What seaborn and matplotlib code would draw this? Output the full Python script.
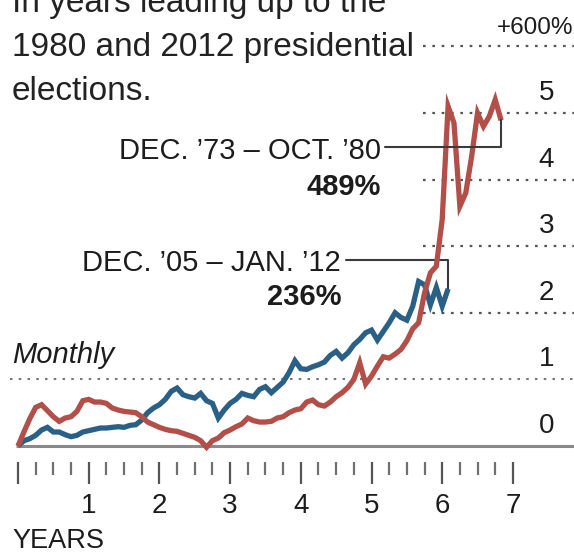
import numpy as np
import pandas as pd
import matplotlib
matplotlib.use("Agg")
import matplotlib.pyplot as plt
from matplotlib.ticker import FixedLocator, FixedFormatter
import seaborn as sns

# ---------------- data (percent change / 100 since start month) ----------------
red_label = "DEC. \u201973 \u2013 OCT. \u201980"
blue_label = "DEC. \u201905 \u2013 JAN. \u201912"
red_total = "489%"
blue_total = "236%"

red_values = [0.00, 0.21, 0.41, 0.58, 0.62, 0.53, 0.44, 0.37, 0.42, 0.44, 0.52, 0.68, 0.70,
              0.66, 0.66, 0.64, 0.57, 0.54, 0.52, 0.51, 0.50, 0.44, 0.36, 0.32, 0.28,
              0.25, 0.23, 0.22, 0.19, 0.16, 0.13, 0.08, -0.02, 0.08, 0.12, 0.20, 0.24,
              0.29, 0.33, 0.42, 0.38, 0.36, 0.36, 0.37, 0.42, 0.44, 0.50, 0.54, 0.56,
              0.66, 0.69, 0.62, 0.60, 0.66, 0.74, 0.80, 0.88, 1.00, 1.25, 0.93, 1.05,
              1.20, 1.34, 1.32, 1.38, 1.45, 1.58, 1.76, 1.85, 2.30, 2.60, 2.70, 3.40,
              5.10, 4.85, 3.60, 3.80, 4.35, 5.00, 4.80, 4.95, 5.20, 4.89]

blue_values = [0.00, 0.08, 0.11, 0.16, 0.24, 0.28, 0.21, 0.21, 0.17, 0.14, 0.16, 0.21, 0.23,
               0.25, 0.27, 0.27, 0.28, 0.29, 0.28, 0.31, 0.32, 0.39, 0.50, 0.57, 0.62,
               0.70, 0.82, 0.87, 0.77, 0.74, 0.72, 0.79, 0.68, 0.64, 0.42, 0.54, 0.64,
               0.70, 0.79, 0.76, 0.74, 0.85, 0.89, 0.80, 0.88, 0.96, 1.10, 1.28, 1.16,
               1.15, 1.19, 1.22, 1.26, 1.36, 1.42, 1.32, 1.40, 1.52, 1.60, 1.70, 1.74,
               1.59, 1.72, 1.85, 2.00, 1.93, 1.89, 2.10, 2.47, 2.42, 2.12, 2.38, 2.10,
               2.36]

y_tick_values = [0, 1, 2, 3, 4, 5, 6]
y_tick_labels = ["0", "1", "2", "3", "4", "5", "+600%"]
x_tick_values = [0, 1, 2, 3, 4, 5, 6, 7]
x_tick_labels = ["", "1", "2", "3", "4", "5", "6", "7"]

df = pd.concat([
    pd.DataFrame({"years": np.arange(len(red_values)) / 12.0, "value": red_values, "series": "1973-80"}),
    pd.DataFrame({"years": np.arange(len(blue_values)) / 12.0, "value": blue_values, "series": "2005-12"}),
])

# ---------------- style ----------------
sns.set_theme(style="white")
plt.rcParams["font.family"] = ["Liberation Sans", "DejaVu Sans"]

W, H = 574, 555
fig = plt.figure(figsize=(W / 100, H / 100), dpi=100)
AX_BOTTOM = 462
ax = fig.add_axes([0, (H - AX_BOTTOM) / H, 1, AX_BOTTOM / H])

X0, XS = 18.0, 70.7    # pixel of year 0, pixels per year
Y0, YS = 446.0, 66.6   # pixel of 0%, pixels per 100%

def X(px):
    return (px - X0) / XS

def Y(py):
    return (Y0 - py) / YS

ax.set_xlim(X(0), X(W))
ax.set_ylim(Y(AX_BOTTOM), Y(0))

RED = "#b24f49"
BLUE = "#2a6086"
TXT = "#1c1c1c"

# gridlines
for v in y_tick_values:
    if v == 0:
        ax.hlines(v, X(16), X(W), color="#8a8a8a", lw=2.2, zorder=1)
    elif v == 1:
        ax.hlines(v, X(10), X(W), color="#777777", lw=1.5, linestyles=(0, (1.2, 3.0)), zorder=1)
    else:
        ax.hlines(v, X(423), X(W), color="#555555", lw=1.6, linestyles=(0, (1.2, 3.0)), zorder=1)

sns.lineplot(data=df, x="years", y="value", hue="series",
             hue_order=["2005-12", "1973-80"],
             palette={"1973-80": RED, "2005-12": BLUE},
             linewidth=3.8, legend=False, ax=ax, zorder=3,
             solid_joinstyle="miter", solid_capstyle="butt")
ax.set_xlabel("")
ax.set_ylabel("")

# y labels on the right, above gridlines
for v, lab in zip(y_tick_values, y_tick_labels):
    if lab.startswith("+"):
        ax.text(X(573), v + 18 / YS, lab, ha="right", va="center", fontsize=17.5, color=TXT)
    else:
        ax.text(X(554), v + 20 / YS, lab, ha="right", va="center", fontsize=20, color=TXT)

# x ticks
ax.xaxis.set_major_locator(FixedLocator(x_tick_values))
ax.xaxis.set_major_formatter(FixedFormatter(x_tick_labels))
ax.xaxis.set_minor_locator(FixedLocator([q / 4 for q in range(0, 29) if q % 4]))
ax.tick_params(axis="x", which="major", bottom=True, direction="out", length=16,
               width=1.6, color="#555555", pad=6, labelsize=20, labelcolor=TXT)
ax.tick_params(axis="x", which="minor", bottom=True, direction="out", length=9.5,
               width=1.6, color="#707070")
ax.set_yticks([])
for s in ax.spines.values():
    s.set_visible(False)

# annotations
red_end_x = (len(red_values) - 1) / 12.0
blue_end_x = (len(blue_values) - 1) / 12.0
ax.plot([X(385), red_end_x, red_end_x], [Y(147), Y(147), red_values[-1]],
        color="#3a3a3a", lw=1.5, zorder=4)
ax.plot([X(346), blue_end_x, blue_end_x], [Y(260), Y(260), blue_values[-1]],
        color="#3a3a3a", lw=1.5, zorder=2)

ax.text(X(381), Y(151), red_label, ha="right", va="center", fontsize=21, color=TXT)
ax.text(X(381), Y(187), red_total, ha="right", va="center", fontsize=21,
        fontweight="bold", color=TXT)
ax.text(X(341), Y(263), blue_label, ha="right", va="center", fontsize=21, color=TXT)
ax.text(X(341), Y(297), blue_total, ha="right", va="center", fontsize=21,
        fontweight="bold", color=TXT)
ax.text(X(12), Y(355), "Monthly", ha="left", va="center", fontsize=21,
        style="italic", color=TXT)

# title lines (top partly cut, as in the original crop)
title_lines = ["In years leading up to the", "1980 and 2012 presidential", "elections."]
for i, line in enumerate(title_lines):
    fig.text(12 / W, 1 - (12 + 44 * i) / H, line, ha="left", va="baseline",
             fontsize=24, color="#222222")

fig.text(12 / W, 1 - 548 / H, "YEARS", ha="left", va="baseline", fontsize=19.5, color=TXT)

fig.savefig("out.png", dpi=100)
